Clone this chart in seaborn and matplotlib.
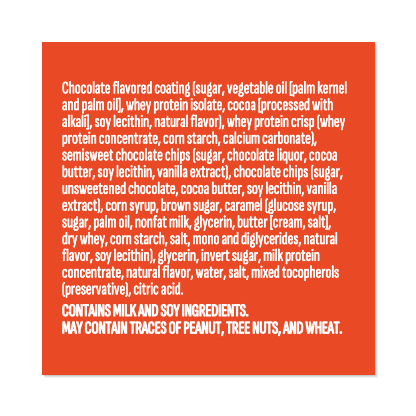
import matplotlib
matplotlib.use("Agg")
import matplotlib.pyplot as plt
from matplotlib import font_manager as fm
from matplotlib.patches import Rectangle
from matplotlib.textpath import TextPath
import matplotlib.patheffects as pe
import seaborn as sns

# ---- content ----
ingredient_lines = [
    "Chocolate flavored coating (sugar, vegetable oil [palm kernel",
    "and palm oil], whey protein isolate, cocoa [processed with",
    "alkali], soy lecithin, natural flavor), whey protein crisp (whey",
    "protein concentrate, corn starch, calcium carbonate),",
    "semisweet chocolate chips (sugar, chocolate liquor, cocoa",
    "butter, soy lecithin, vanilla extract), chocolate chips (sugar,",
    "unsweetened chocolate, cocoa butter, soy lecithin, vanilla",
    "extract), corn syrup, brown sugar, caramel (glucose syrup,",
    "sugar, palm oil, nonfat milk, glycerin, butter [cream, salt],",
    "dry whey, corn starch, salt, mono and diglycerides, natural",
    "flavor, soy lecithin), glycerin, invert sugar, milk protein",
    "concentrate, natural flavor, water, salt, mixed tocopherols",
    "(preservative), citric acid.",
]
allergen_lines = [
    "CONTAINS MILK AND SOY INGREDIENTS.",
    "MAY CONTAIN TRACES OF PEANUT, TREE NUTS, AND WHEAT.",
]
panel_value = [[1.0]]

ORANGE = "#E94A25"

sns.set_theme(style="white")

CANDIDATES = ["Roboto Condensed", "Pathway Gothic One", "Sofia Sans Extra Condensed",
              "Saira Extra Condensed", "Fira Sans Extra Condensed", "Barlow Condensed",
              "Encode Sans Compressed", "Encode Sans Condensed", "IBM Plex Sans Condensed",
              "Archivo Narrow", "Antonio", "Fjalla One", "Oswald", "PT Sans Narrow",
              "Asap Condensed", "Saira Condensed", "Sofia Sans Condensed",
              "Fira Sans Condensed", "Yanone Kaffeesatz", "Open Sans Condensed",
              "Archivo Condensed", "Liberation Sans Narrow"]

def available(name):
    try:
        return fm.findfont(fm.FontProperties(family=name), fallback_to_default=False) is not None
    except Exception:
        return False

def ratio(name, text, weight="normal"):
    fp = fm.FontProperties(family=name, weight=weight)
    w = TextPath((0, 0), text, size=10, prop=fp).get_extents().width
    h = TextPath((0, 0), "H", size=10, prop=fp).get_extents().height
    return w / h, w, h

TARGET_RATIO = 284 / 11.6
best, best_err = "Roboto Condensed", 1e9
for c in CANDIDATES:
    if not available(c):
        continue
    try:
        rr, _, _ = ratio(c, ingredient_lines[0])
    except Exception:
        continue
    err = abs(rr - TARGET_RATIO)
    if err < best_err:
        best, best_err = c, err
FONT = best

W = H = 416
DPI = 100
fig = plt.figure(figsize=(4.16, 4.16), dpi=DPI)
fig.patch.set_facecolor("white")

# faint shadow
bg = fig.add_axes([0, 0, 1, 1])
bg.set_xlim(0, W); bg.set_ylim(H, 0); bg.axis("off")
for d, a in [(3, 0.05), (2, 0.07), (1, 0.10)]:
    bg.add_patch(Rectangle((42 + d, 42 + d), 333, 333, color="black", alpha=a, lw=0))

# orange panel drawn as a one-cell seaborn heatmap
pax = fig.add_axes([42 / W, 1 - 375 / H, 333 / W, 333 / H])
sns.heatmap(panel_value, ax=pax, cmap=[ORANGE], cbar=False, xticklabels=False,
            yticklabels=False, linewidths=0)
pax.axis("off")

# text overlay in pixel coordinates
tax = fig.add_axes([0, 0, 1, 1])
tax.set_xlim(0, W); tax.set_ylim(H, 0); tax.axis("off")

def size_for_width(text, target_px):
    _, w, _ = ratio(FONT, text)
    return 10.0 * target_px / (w * DPI / 72.0)

BODY_STROKE = 0.35
BOLD_STROKE = 0.8
reg_size = size_for_width(ingredient_lines[0], 284 - BODY_STROKE * DPI / 72)
bold_size = size_for_width(allergen_lines[1], 280 - BOLD_STROKE * DPI / 72)

x0 = 62
for i, line in enumerate(ingredient_lines):
    tax.text(x0, 93.3 + 16.75 * i, line, fontsize=reg_size, family=FONT,
             color="white", ha="left", va="baseline",
             path_effects=[pe.withStroke(linewidth=BODY_STROKE, foreground="white")])
for i, line in enumerate(allergen_lines):
    tax.text(x0, 316 + 17.3 * i, line, fontsize=bold_size, family=FONT,
             color="white", ha="left", va="baseline",
             path_effects=[pe.withStroke(linewidth=BOLD_STROKE, foreground="white")])

fig.savefig("out.png", dpi=DPI, facecolor="white")
